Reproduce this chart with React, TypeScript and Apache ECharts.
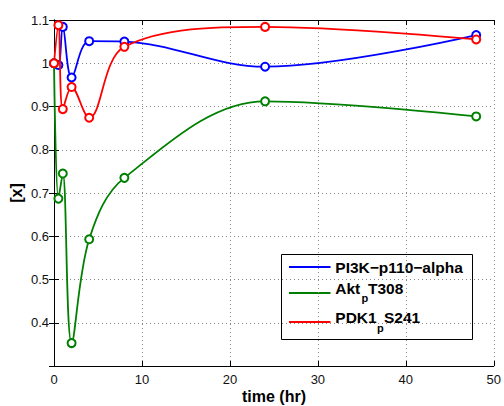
import React, { useEffect, useRef } from "react";
import * as echarts from "echarts";

const times = [0, 0.5, 1, 2, 4, 8, 24, 48];
const pi3kValues = [1.0, 0.996, 1.084, 0.967, 1.051, 1.05, 0.992, 1.065];
const aktValues = [1.0, 0.687, 0.745, 0.353, 0.593, 0.735, 0.912, 0.877];
const pdk1Values = [1.0, 1.088, 0.894, 0.945, 0.874, 1.038, 1.084, 1.055];
const seriesNames = ["PI3K\u2212p110\u2212alpha", "Akt_pT308", "PDK1_pS241"];
const seriesColors = ["#0000ff", "#008000", "#ff0000"];
const xLabel = "time (hr)";
const yLabel = "[x]";

const FONT = "'Liberation Sans', Arial, Helvetica, sans-serif";

export default function App() {
  const ref = useRef<HTMLDivElement>(null);
  useEffect(() => {
    if (!ref.current) return;
    const chart = echarts.init(ref.current, undefined, { renderer: "svg" });
    const valuesList = [pi3kValues, aktValues, pdk1Values];
    const series = valuesList.map((vals, i) => ({
      name: seriesNames[i],
      type: "line",
      xAxisIndex: 0,
      yAxisIndex: 0,
      data: times.map((t, j) => [t, vals[j]]),
      smooth: 0.35,
      symbol: "emptyCircle",
      symbolSize: 8,
      showSymbol: true,
      lineStyle: { color: seriesColors[i], width: 1.8 },
      itemStyle: { color: seriesColors[i], borderColor: seriesColors[i], borderWidth: 1.8 },
      z: 2 + i,
    }));

    const gridLine = { show: true, lineStyle: { color: "#888", type: [1, 3], width: 1 } };
    const tickIn = { show: true, inside: true, length: 5, lineStyle: { color: "#000" } };
    const axLine = { show: true, lineStyle: { color: "#000", width: 1 } };

    const legX = 281.5, legY = 254.5;
    const legendEls: any[] = [
      {
        type: "rect",
        shape: { x: legX, y: legY, width: 191, height: 85 },
        style: { fill: "#fff", stroke: "#000", lineWidth: 1 },
      },
    ];
    const rowY = [267, 293, 322];
    rowY.forEach((y, i) => {
      legendEls.push({
        type: "line",
        shape: { x1: 289, y1: y, x2: 330.5, y2: y },
        style: { stroke: seriesColors[i], lineWidth: 1.8 },
      });
    });
    const mainFont = { fontFamily: FONT, fontWeight: "bold", fontSize: 15.5, fill: "#000" };
    const subFont = { fontFamily: FONT, fontWeight: "bold", fontSize: 11, fill: "#000" };
    const labelFont = { fontFamily: FONT, fontWeight: "bold", fontSize: 16, fill: "#000" };
    const addText = (text: string, x: number, y: number, font: any) =>
      legendEls.push({
        type: "text",
        x,
        y,
        style: { ...font, text, align: "left", verticalAlign: "middle" },
      });
    addText(seriesNames[0], 335.3, 267.9, mainFont);
    const [aktMain, aktRest] = seriesNames[1].split("_");
    addText(aktMain, 335.3, 288.9, mainFont);
    addText(aktRest.slice(0, 1), 361.5, 297.6, subFont);
    addText(aktRest.slice(1), 368, 288.9, mainFont);
    const [pdkMain, pdkRest] = seriesNames[2].split("_");
    addText(pdkMain, 335.3, 317.9, mainFont);
    addText(pdkRest.slice(0, 1), 377, 327.6, subFont);
    addText(pdkRest.slice(1), 384, 317.9, mainFont);

    chart.setOption({
      animation: false,
      backgroundColor: "#fff",
      grid: { left: 54, top: 20, width: 440, height: 346, containLabel: false },
      xAxis: [
        {
          type: "value",
          min: 0,
          max: 50,
          interval: 10,
          position: "bottom",
          axisLine: axLine,
          axisTick: tickIn,
          splitLine: gridLine,
          axisLabel: { color: "#111", fontFamily: FONT, fontSize: 13, margin: 7 },
        },
        {
          type: "value",
          min: 0,
          max: 50,
          interval: 10,
          position: "top",
          axisLine: axLine,
          axisTick: tickIn,
          splitLine: { show: false },
          axisLabel: { show: false },
        },
      ],
      yAxis: [
        {
          type: "value",
          min: 0.3,
          max: 1.1,
          interval: 0.1,
          position: "left",
          axisLine: axLine,
          axisTick: tickIn,
          splitLine: gridLine,
          axisLabel: {
            color: "#111",
            fontFamily: FONT,
            fontSize: 13,
            margin: 5,
            formatter: (v: number) => {
              const r = Math.round(v * 10) / 10;
              return r < 0.35 ? "" : String(r);
            },
          },
        },
        {
          type: "value",
          min: 0.3,
          max: 1.1,
          interval: 0.1,
          position: "right",
          axisLine: axLine,
          axisTick: tickIn,
          splitLine: { show: false },
          axisLabel: { show: false },
        },
      ],
      series,
      graphic: [
        {
          type: "text",
          x: 274,
          y: 396,
          style: { ...labelFont, text: xLabel, align: "center", verticalAlign: "middle" },
        },
        {
          type: "text",
          x: 16.5,
          y: 193,
          rotation: Math.PI / 2,
          style: { ...labelFont, text: yLabel, align: "center", verticalAlign: "middle" },
        },
        { type: "group", z: 100, children: legendEls },
      ],
    });
    return () => chart.dispose();
  }, []);
  return (
    <div
      ref={ref}
      style={{ position: "fixed", left: 0, top: 0, width: 504, height: 406 }}
    />
  );
}
